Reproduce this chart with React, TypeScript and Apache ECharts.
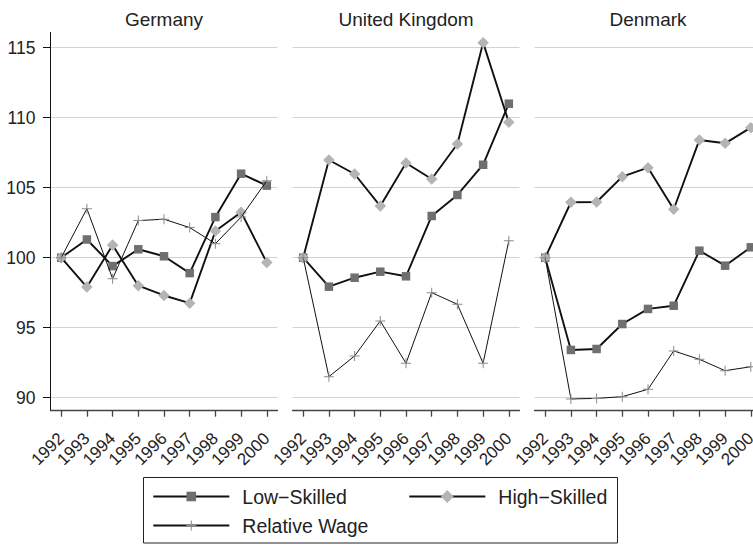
import React, { useEffect, useRef } from 'react';
import * as echarts from 'echarts';

const years = [1992, 1993, 1994, 1995, 1996, 1997, 1998, 1999, 2000];
const yTicks = [90, 95, 100, 105, 110, 115];
const panels = ['Germany', 'United Kingdom', 'Denmark'];
const seriesNames = ['Low−Skilled', 'High−Skilled', 'Relative Wage'];

const germanyLow = [100, 101.3, 99.4, 100.6, 100.1, 98.9, 102.9, 106.0, 105.15];
const germanyHigh = [100, 97.9, 100.9, 98.0, 97.3, 96.75, 101.9, 103.25, 99.65];
const germanyRel = [100, 103.5, 98.5, 102.65, 102.75, 102.15, 101.0, 102.9, 105.5];

const ukLow = [100, 97.93, 98.57, 99.0, 98.67, 102.98, 104.48, 106.64, 111.0];
const ukHigh = [100, 106.98, 105.98, 103.69, 106.76, 105.62, 108.12, 115.36, 109.67];
const ukRel = [100, 91.5, 92.98, 95.48, 92.46, 97.5, 96.67, 92.46, 101.21];

const dkLow = [100, 93.41, 93.48, 95.26, 96.34, 96.57, 100.5, 99.43, 100.74];
const dkHigh = [100, 103.96, 103.98, 105.79, 106.43, 103.46, 108.41, 108.17, 109.29];
const dkRel = [100, 89.91, 89.95, 90.07, 90.6, 93.34, 92.74, 91.93, 92.21];

const FONT = '"Liberation Sans", Arial, Helvetica, sans-serif';
const TEXT = '#222222';
const PLUS = 'path://M-0.1,-1H0.1V-0.1H1V0.1H0.1V1H-0.1V0.1H-1V-0.1H-0.1Z';

export default function App() {
  const ref = useRef<HTMLDivElement>(null);

  useEffect(() => {
    document.body.style.margin = '0';
    const chart = echarts.init(ref.current!, null, { renderer: 'svg' });
    const gridLefts = [50.5, 292.5, 534.5];
    const gridW = 227;
    const data = [
      [germanyLow, germanyHigh, germanyRel],
      [ukLow, ukHigh, ukRel],
      [dkLow, dkHigh, dkRel],
    ];
    const styles = [
      { symbol: 'rect', size: 8.5, color: '#6f6f6f', width: 1.9, z: 3 },
      { symbol: 'diamond', size: 11.5, color: '#b4b4b4', width: 1.9, z: 4 },
      { symbol: PLUS, size: 10, color: '#8a8a8a', width: 1, z: 5 },
    ];

    const grid = gridLefts.map((l) => ({
      left: l,
      top: 32.3,
      width: gridW,
      height: 378.4,
      containLabel: false,
      outerBoundsMode: 'none',
    }));

    const xAxis = gridLefts.map((_, i) => ({
      type: 'value',
      gridIndex: i,
      min: 1991.584,
      max: 2000.416,
      axisLine: { show: true, onZero: false, lineStyle: { color: '#444', width: 1.3 } },
      axisTick: { show: true, length: 6, customValues: years, lineStyle: { color: '#444', width: 1.3 } },
      axisLabel: {
        customValues: years,
        rotate: 45,
        margin: 25,
        fontSize: 17,
        color: TEXT,
        fontFamily: FONT,
        formatter: (v: number) => String(v),
      },
      splitLine: { show: false },
    }));

    const yAxis = gridLefts.map((_, i) => ({
      type: 'value',
      gridIndex: i,
      min: 89.07,
      max: 116.1,
      axisLine: { show: i === 0, onZero: false, lineStyle: { color: '#111', width: 1 } },
      axisTick: { show: i === 0, length: 7.5, customValues: yTicks, lineStyle: { color: '#111', width: 1 } },
      axisLabel: {
        show: i === 0,
        customValues: yTicks,
        margin: 15,
        fontSize: 17.5,
        color: TEXT,
        fontFamily: FONT,
        formatter: (v: number) => String(v),
      },
      splitLine: { show: true, lineStyle: { color: '#d2d2d2', width: 1 } },
    }));

    const series: any[] = [];
    panels.forEach((_, p) => {
      seriesNames.forEach((name, s) => {
        const st = styles[s];
        series.push({
          type: 'line',
          name,
          xAxisIndex: p,
          yAxisIndex: p,
          data: years.map((yr, k) => [yr, data[p][s][k]]),
          symbol: st.symbol,
          symbolSize: st.size,
          showSymbol: true,
          z: st.z,
          lineStyle: { color: '#111', width: st.width },
          itemStyle: { color: st.color, borderWidth: 0 },
          emphasis: { disabled: true },
        });
      });
    });

    const legendCommon = {
      orient: 'horizontal',
      padding: 0,
      itemWidth: 76,
      itemGap: 0,
      selectedMode: false,
      textStyle: { fontSize: 19.5, fontFamily: FONT, color: TEXT, lineHeight: 20, padding: [0, 0, 0, 8] },
    };

    chart.setOption({
      animation: false,
      backgroundColor: '#ffffff',
      title: panels.map((t, i) => ({
        text: t,
        left: gridLefts[i] + gridW / 2,
        top: 10,
        textAlign: 'center',
        padding: 0,
        textStyle: { fontSize: 19, fontWeight: 'normal', color: TEXT, fontFamily: FONT },
      })),
      grid,
      xAxis,
      yAxis,
      legend: [
        { ...legendCommon, data: [seriesNames[0]], left: 152.3, top: 486.5, itemHeight: 12 },
        { ...legendCommon, data: [seriesNames[1]], left: 408.3, top: 486.5, itemHeight: 16 },
        { ...legendCommon, data: [seriesNames[2]], left: 152.3, top: 515.5, itemHeight: 12.5 },
      ],
      graphic: [
        {
          type: 'rect',
          silent: true,
          shape: { x: 143.5, y: 477.5, width: 474, height: 65.5 },
          style: { fill: 'none', stroke: '#222', lineWidth: 1 },
        },
      ],
      series,
    });

    return () => chart.dispose();
  }, []);

  return <div ref={ref} style={{ width: 753, height: 545, overflow: 'hidden' }} />;
}
